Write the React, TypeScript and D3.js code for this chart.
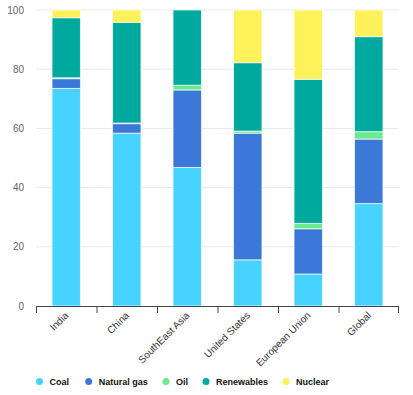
import React from "react";
import * as d3 from "d3";

const categories = ["India", "China", "SouthEast Asia", "United States", "European Union", "Global"];
const seriesNames = ["Coal", "Natural gas", "Oil", "Renewables", "Nuclear"];
const coal = [73.5, 58.4, 46.8, 15.6, 10.8, 34.6];
const naturalGas = [3.3, 3.2, 26.2, 42.8, 15.3, 21.8];
const oil = [0.3, 0.2, 1.6, 0.7, 1.8, 2.5];
const renewables = [20.3, 34.0, 25.4, 23.1, 48.7, 32.1];
const nuclear = [2.6, 4.2, 0, 17.8, 23.4, 9.0];
const yTicks = [0, 20, 40, 60, 80, 100];
const colors = ["#47D3FF", "#3C78D8", "#6AE98F", "#00A99D", "#FFF159"];

const W = 413, H = 395;
const left = 36, right = 399, top = 10, bottom = 306;

export default function App() {
  const seriesVals = [coal, naturalGas, oil, renewables, nuclear];
  const rows = categories.map((c, i) => {
    const r: any = { cat: c };
    seriesNames.forEach((s, j) => (r[s] = seriesVals[j][i]));
    return r;
  });
  const stacked = d3.stack().keys(seriesNames)(rows);
  const x = d3.scaleBand().domain(categories).range([left, right]).paddingInner(0.53).paddingOuter(0.265);
  const xb = d3.scaleBand().domain(categories).range([left, right]);
  const y = d3.scaleLinear().domain([0, 100]).range([bottom, top]);
  const legendX = [39.5, 88.7, 166, 206, 286];

  return (
    <svg width={W} height={H} style={{ position: "absolute", left: 0, top: 0, fontFamily: "Liberation Sans, Arial, sans-serif" }}>
      <rect width={W} height={H} fill="#fff" />
      {yTicks.map((t) => (
        <g key={t}>
          {t > 0 && <line x1={left} x2={right} y1={y(t)} y2={y(t)} stroke="#e8e8e8" strokeWidth={1} />}
          <text x={24} y={y(t)} dy="0.35em" textAnchor="end" fontSize={10} fill="#666">{t}</text>
        </g>
      ))}
      {stacked.map((s, j) => (
        <g key={s.key}>
          {s.map((d, i) =>
            d[1] - d[0] > 0 ? (
              <rect key={i} x={x(categories[i])!} width={x.bandwidth()} y={y(d[1])} height={y(d[0]) - y(d[1])}
                fill={colors[j]} stroke="#fff" strokeOpacity={0.7} strokeWidth={1} />
            ) : null
          )}
        </g>
      ))}
      <line x1={left} x2={right} y1={bottom + 0.5} y2={bottom + 0.5} stroke="#444" strokeWidth={1} />
      {categories.map((c, i) => (
        <line key={"t" + i} x1={xb(c)! + 0.5} x2={xb(c)! + 0.5} y1={bottom} y2={bottom + 7} stroke="#444" />
      ))}
      <line x1={right - 0.5} x2={right - 0.5} y1={bottom} y2={bottom + 7} stroke="#444" />
      {categories.map((c) => (
        <text key={c} transform={`translate(${x(c)! + x.bandwidth() / 2 + 3},${bottom + 10}) rotate(-45)`}
          textAnchor="end" fontSize={10} fill="#333">{c}</text>
      ))}
      {seriesNames.map((s, j) => (
        <g key={s}>
          <circle cx={legendX[j]} cy={381.5} r={3.5} fill={colors[j]} />
          <text x={legendX[j] + 10} y={381.5} dy="0.35em" fontSize={9} fontWeight="bold" fill="#111">{s}</text>
        </g>
      ))}
    </svg>
  );
}
